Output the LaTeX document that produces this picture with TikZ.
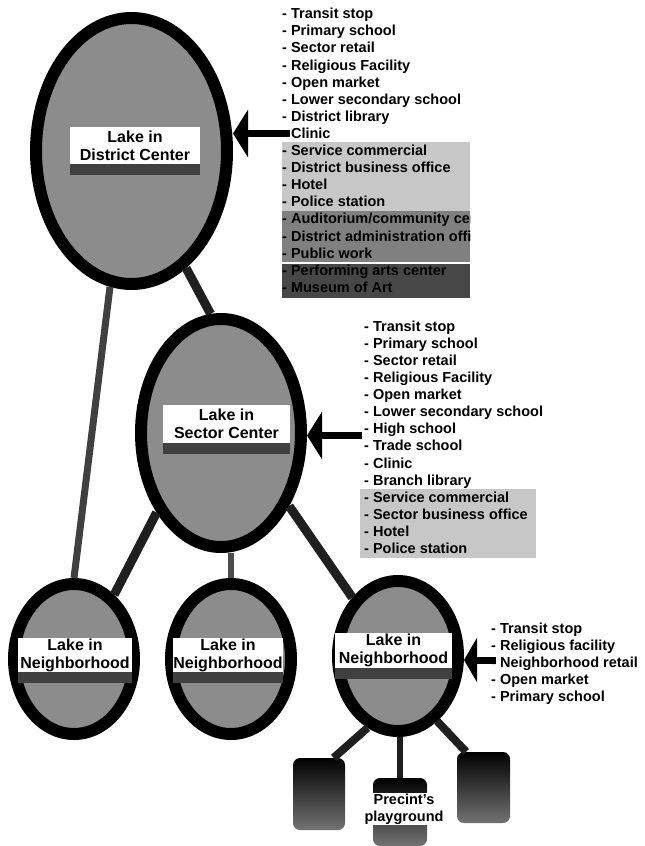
\documentclass[tikz,border=0pt]{standalone}
\usepackage{fontspec}
\setmainfont{Liberation Sans}
\usetikzlibrary{shapes.geometric,arrows.meta}

\tikzset{
  lake/.style={ellipse, draw=black, line width=12pt, fill=black!45, inner sep=0pt},
  lakename/.style={fill=white, align=center, inner sep=0pt, font=\fontsize{16}{18}\selectfont\bfseries},
  usage/.style={align=left, inner sep=0pt, anchor=north west, font=\fontsize{14.5}{17.1}\selectfont\bfseries},
  road/.style={line width=9pt, black!88},
  feed/.style={line width=7pt, -{Triangle[length=15pt,width=47pt]}},
  parcel/.style={rounded corners=7pt, top color=black, bottom color=black!55, inner sep=0pt},
}

\begin{document}
\begin{tikzpicture}[x=1pt,y=-1pt]
    \useasboundingbox (0,0) rectangle (645,846);

    % Lakes
    \node[lake, minimum width=191pt, minimum height=266pt] (dist) at (131.5,151) {};
    \node[lake, minimum width=160pt, minimum height=228pt] (sec) at (221,433) {};
    \node[lake, minimum width=120pt, minimum height=150pt] (nb1) at (74,659) {};
    \node[lake, minimum width=120pt, minimum height=150pt] (nb2) at (231,659) {};
    \node[lake, minimum width=120pt, minimum height=150pt] (nb3) at (398,656) {};

    % Lake names
    \node[lakename, minimum width=130pt, minimum height=37pt] (dlabel) at (135,145.5) {Lake in\\District Center};
    \node[lakename, minimum width=127pt, minimum height=38pt] (slabel) at (226.5,424) {Lake in\\Sector Center};
    \node[lakename, minimum width=114pt, minimum height=34pt] (n1label) at (75,655) {Lake in\\Neighborhood};
    \node[lakename, minimum width=110pt, minimum height=34pt] (n2label) at (228,655) {Lake in\\Neighborhood};
    \node[lakename, minimum width=117pt, minimum height=35pt] (n3label) at (393.5,650.5) {Lake in\\Neighborhood};
    \foreach \l in {dlabel,slabel,n1label,n2label,n3label}
        \fill[black!75] (\l.south west) rectangle ([yshift=-11pt]\l.south east);

    % Playground parcels
    \node[parcel, minimum width=52pt, minimum height=72pt] (pl1) at (319,794) {};
    \node[parcel, minimum width=54pt, minimum height=68pt] (pl2) at (400,812) {};
    \node[parcel, minimum width=53pt, minimum height=71pt] (pl3) at (483.5,787.5) {};
    \node[fill=white, inner sep=1pt, align=center, font=\fontsize{14.5}{17}\selectfont\bfseries] (pglabel) at (404,809) {Precint's\\playground};

    % Links
    \draw[road] (dist.-65) -- (sec.95);
    \draw[road, black!75, line width=7pt] (dist.-99) -- (nb1.90);
    \draw[road] (sec.-129) -- (nb1.58);
    \draw[road, black!70, line width=6pt] (nb2.north) -- (nb2.north |- sec.south);
    \draw[road] (sec.-47) -- (nb3.128);
    \draw[road, line width=8pt] (nb3.-113) -- (pl1.68);
    \draw[road, line width=6pt] (pl2.north) -- (pl2.north |- nb3.south);
    \draw[road, line width=8pt] (nb3.-59) -- (pl3.116);

    % Facilities of the district center
    \fill[black!22] (282,142) rectangle (470,211);
    \fill[black!50] (282,211) rectangle (470,262);
    \fill[black!72] (282,264) rectangle (470,298);
    \begin{scope}
        \clip (270,0) rectangle (470,300);
        \node[usage] (dlist) at (282,8) {- Transit stop\\- Primary school\\- Sector retail\\- Religious Facility\\- Open market\\- Lower secondary school\\- District library\\- Clinic\\- Service commercial\\- District business office\\- Hotel\\- Police station\\- Auditorium/community center\\- District administration office\\- Public work\\- Performing arts center\\- Museum of Art};
    \end{scope}
    \coordinate (darr) at (290,133.5);
    \draw[feed] (darr) -- (darr -| dist.east);

    % Facilities of the sector center
    \fill[black!22] (360,489) rectangle (536,558);
    \node[usage] (slist) at (364,320.5) {- Transit stop\\- Primary school\\- Sector retail\\- Religious Facility\\- Open market\\- Lower secondary school\\- High school\\- Trade school\\- Clinic\\- Branch library\\- Service commercial\\- Sector business office\\- Hotel\\- Police station};
    \coordinate (sarr) at (362,435.5);
    \draw[feed] (sarr) -- (sarr -| sec.east);

    % Facilities of the neighborhood
    \node[usage] (nlist) at (491,622.5) {- Transit stop\\- Religious facility\\- Neighborhood retail\\- Open market\\- Primary school};
    \coordinate (narr) at (496,660);
    \draw[feed, -{Triangle[length=13pt,width=44pt]}] (narr) -- (narr -| nb3.east);
\end{tikzpicture}
\end{document}
